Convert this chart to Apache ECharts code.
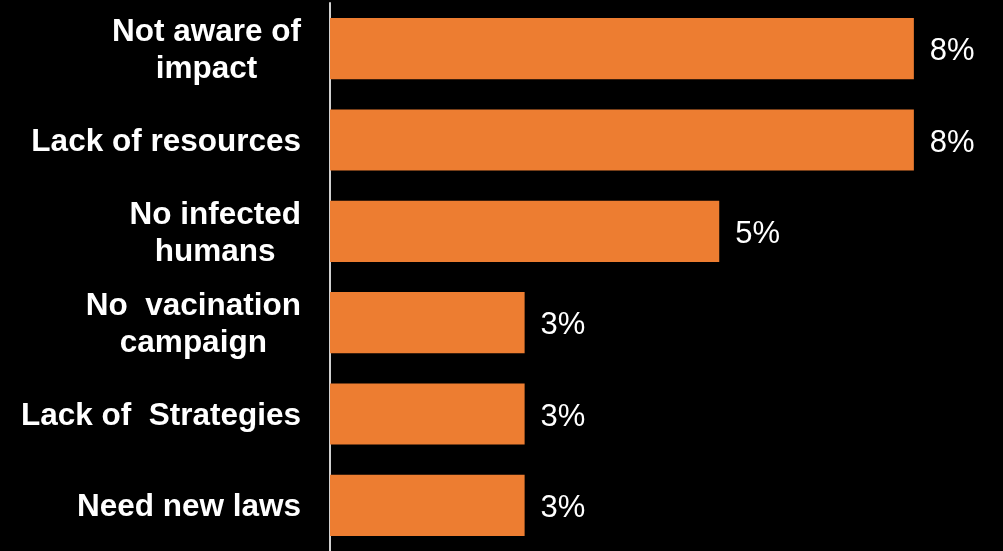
<!DOCTYPE html>
<html>
<head>
<meta charset="utf-8">
<script src="https://cdn.jsdelivr.net/npm/echarts@6/dist/echarts.min.js"></script>
<style>
  html, body { margin: 0; padding: 0; background: #000; }
  #chart { width: 1003px; height: 551px; }
</style>
</head>
<body>
<div id="chart"></div>
<script>
// Reasons given, top to bottom
const categories = [
  'Not aware of\nimpact',
  'Lack of resources',
  'No infected\nhumans',
  'No  vacination\ncampaign',
  'Lack of  Strategies',
  'Need new laws'
];
// Share of respondents (%)
const shares = [7.89, 7.89, 5.26, 2.63, 2.63, 2.63];

const FONT = '"Liberation Sans", Arial, sans-serif';

const chart = echarts.init(document.getElementById('chart'));

chart.setOption({
  backgroundColor: '#000000',
  animation: false,
  grid: { left: 330, right: 7, top: 3, bottom: 0, containLabel: false },
  xAxis: {
    type: 'value',
    min: 0,
    max: 9,
    show: false,
    splitLine: { show: false }
  },
  yAxis: {
    type: 'category',
    inverse: true,
    data: categories,
    axisTick: { show: false },
    axisLine: { show: true, lineStyle: { color: '#d0d0d0', width: 2 } },
    axisLabel: {
      margin: 29,
      color: '#ffffff',
      fontFamily: FONT,
      fontWeight: 'bold',
      fontSize: 31.5,
      lineHeight: 37,
      padding: [4, 0, 0, 0],
      formatter: function (value) {
        return value.split('\n').map(function (line) { return '{c|' + line + '}'; }).join('\n');
      },
      rich: {
        c: {
          align: 'center',
          color: '#ffffff',
          fontFamily: FONT,
          fontWeight: 'bold',
          fontSize: 31.5,
          lineHeight: 37
        }
      }
    }
  },
  series: [{
    type: 'bar',
    data: shares,
    barCategoryGap: '33%',
    itemStyle: { color: '#ED7D31' },
    label: {
      show: true,
      position: 'right',
      distance: 16,
      offset: [0, 3],
      color: '#ffffff',
      fontFamily: FONT,
      fontSize: 31,
      formatter: function (p) { return Math.round(p.value) + '%'; }
    }
  }]
});
</script>
</body>
</html>
